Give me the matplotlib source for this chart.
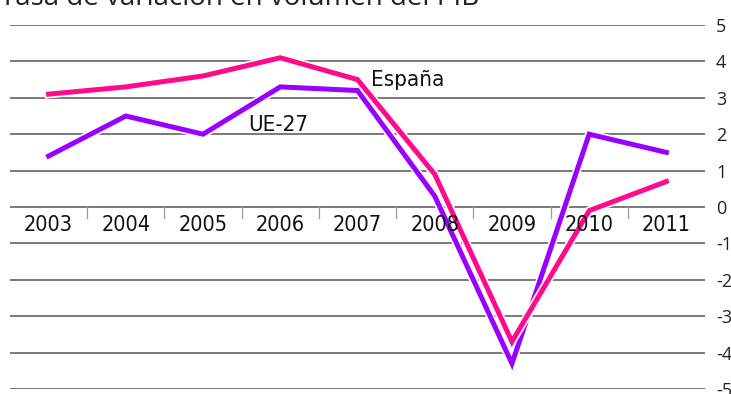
import matplotlib.pyplot as plt
import matplotlib.patheffects as pe

years = ['2003', '2004', '2005', '2006', '2007', '2008', '2009', '2010', '2011']
espana = [3.1, 3.3, 3.6, 4.1, 3.5, 0.9, -3.7, -0.1, 0.7]
ue27 = [1.4, 2.5, 2.0, 3.3, 3.2, 0.3, -4.3, 2.0, 1.5]
yticks = list(range(-5, 6))

pink = '#ff0a8c'
purple = '#9900ff'

narrow = dict(family='DejaVu Sans', stretch='condensed')

fig = plt.figure(figsize=(7.31, 3.94), dpi=100)
ax = fig.add_axes([10 / 731, 5 / 394, 695 / 731, 364 / 394])

x = list(range(len(years)))
ax.set_xlim(-0.5, len(years) - 0.5)
ax.set_ylim(-5, 5)

# horizontal rules at every unit
for v in yticks:
    ax.axhline(v, color='#555555', lw=1.1, zorder=1)

# short separators hanging from the zero line
for i in range(1, len(years)):
    ax.plot([i - 0.5, i - 0.5], [0, -0.3], color='#999999', lw=0.9, zorder=1)

for i, yr in enumerate(years):
    ax.text(i, -0.5, yr, ha='center', va='center', fontsize=15.5,
            color='#111111', zorder=6, **narrow)

halo = [pe.Stroke(linewidth=6, foreground='white'), pe.Normal()]
ax.plot(x, ue27, color=purple, lw=3.6, solid_joinstyle='miter',
        path_effects=halo, zorder=3)
ax.plot(x, espana, color=pink, lw=3.6, solid_joinstyle='miter',
        path_effects=halo, zorder=4)

ax.text(4.18, 3.5, 'España', fontsize=16, color='#111111', va='center',
        ha='left', zorder=5, **narrow)
ax.text(2.58, 2.26, 'UE-27', fontsize=16, color='#111111', va='center',
        ha='left', zorder=5, **narrow)

ax.yaxis.tick_right()
ax.set_yticks(yticks)
ax.set_yticklabels([str(v) for v in yticks], family='Open Sans', fontsize=13,
                   color='#222222')
ax.tick_params(axis='y', length=0, pad=8)
ax.set_xticks([])
for s in ax.spines.values():
    s.set_visible(False)

fig.text(0.0, 389 / 394, 'Tasa de variación en volumen del PIB',
         family='Open Sans', fontsize=20, color='#222222', va='baseline', ha='left')

fig.savefig('out.png', dpi=100)
